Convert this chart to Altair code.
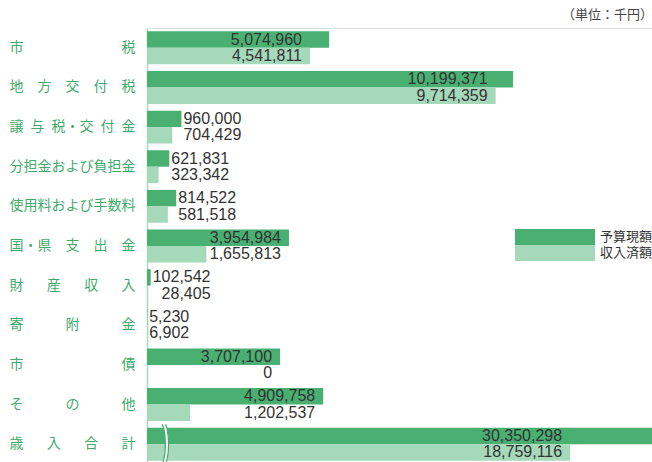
import altair as alt
import pandas as pd

# ---- data (千円) ----
categories = ["市税", "地方交付税", "譲与税・交付金", "分担金および負担金", "使用料および手数料",
              "国・県支出金", "財産収入", "寄附金", "市債", "その他", "歳入合計"]
budget = [5074960, 10199371, 960000, 621831, 814522, 3954984, 102542, 5230, 3707100, 4909758, 30350298]
received = [4541811, 9714359, 704429, 323342, 581518, 1655813, 28405, 6902, 0, 1202537, 18759116]
series = ["予算現額", "収入済額"]
colors = ["#49b072", "#a5d9ba"]
unit_title = "（単位：千円）"

# ---- layout constants ----
PLOT_W, PLOT_H = 505, 436
X_MAX = 14_070_000            # visible x-domain
BREAK = 6_970_000             # amount cut out of the total row (axis break)
BREAK_MARK_AT = 500_000       # where the break symbol is drawn
PX = PLOT_W / X_MAX           # px per unit
GREEN_TEXT = "#3fab6b"


def spaces_for(gap):
    full = int(gap)
    rest = gap - full
    s = "\u3000" * full
    if rest > 0.55:
        s += "\u2002\u2006"
    elif rest > 0.4:
        s += "\u2002"
    elif rest > 0.3:
        s += "\u2004"
    elif rest > 0.2:
        s += "\u2005"
    return s


def justify(name, em=9):
    """Spread the characters of a row label over a fixed width (均等割付)."""
    # a middle dot binds its neighbours together
    parts = []
    for ch in name:
        if ch == "・" and parts:
            parts[-1] += ch
        elif parts and parts[-1].endswith("・"):
            parts[-1] += ch
        else:
            parts.append(ch)
    n_chars = len(name)
    n_gaps = len(parts) - 1
    if n_chars >= em or n_gaps < 1:
        return name
    return spaces_for((em - n_chars) / n_gaps).join(parts)


def num_w(s):
    return sum(8.9 if c.isdigit() else 4.45 for c in s)


rows = []
for c, b, r in zip(categories, budget, received):
    is_total = c == "歳入合計"
    db = b - BREAK if is_total else b
    dr = r - BREAK if is_total else r
    lb, lr = f"{b:,}", f"{r:,}"
    if db >= 1_500_000:
        anchor = (dr if dr >= 0.5 * db else db) - 8 / PX
    else:
        anchor = db + (2 + max(num_w(lb), num_w(lr))) / PX
    for s, v, d, lab in ((series[0], b, db, lb), (series[1], r, dr, lr)):
        rows.append({"cat": justify(c), "series": s, "value": v, "disp": d,
                     "label": lab, "anchor": anchor})
df = pd.DataFrame(rows)
cat_order = [justify(c) for c in categories]

y_enc = alt.Y("cat:N", sort=cat_order,
              scale=alt.Scale(paddingInner=0.17, paddingOuter=0.085),
              axis=alt.Axis(title=None, ticks=False, labelPadding=12,
                            labelFont="Noto Sans CJK JP", labelFontSize=14,
                            labelColor=GREEN_TEXT, domainColor="#a5d9ba",
                            domainWidth=1.5, labelLimit=200))
yoff = alt.YOffset("series:N", sort=series,
                   scale=alt.Scale(paddingInner=0, paddingOuter=0))
x_scale = alt.Scale(domain=[0, X_MAX], nice=False, zero=True)

bars = alt.Chart(df).mark_bar(clip=True).encode(
    y=y_enc, yOffset=yoff,
    x=alt.X("disp:Q", scale=x_scale, axis=None),
    color=alt.Color("series:N", sort=series,
                    scale=alt.Scale(domain=series, range=colors),
                    legend=alt.Legend(title=None, orient="none", legendX=368, legendY=201,
                                      symbolType="M-1,-1H9V1H-1Z", symbolSize=256,
                                      symbolStrokeWidth=0, symbolOpacity=1,
                                      labelOffset=69, rowPadding=0, padding=0,
                                      labelFont="Noto Sans CJK JP", labelFontSize=13,
                                      labelColor="#333333")),
)

texts = alt.Chart(df).mark_text(align="right", baseline="middle",
                                font="Liberation Sans", fontSize=16, color="#333333").encode(
    y=alt.Y("cat:N", sort=cat_order), yOffset=yoff,
    x=alt.X("anchor:Q", scale=x_scale),
    text="label:N",
)

brk_df = pd.DataFrame({"cat": [justify("歳入合計")], "pos": [BREAK_MARK_AT]})
brk_white = alt.Chart(brk_df).mark_point(
    shape="M-0.05,-1C0.15,-0.5 0.15,0.5 -0.05,1", size=1600, filled=False,
    stroke="white", strokeWidth=3.5, opacity=1).encode(
    y=alt.Y("cat:N", sort=cat_order), x=alt.X("pos:Q", scale=x_scale))
brk_green = alt.Chart(brk_df).mark_point(
    shape="M-0.13,-1C0.07,-0.5 0.07,0.5 -0.13,1M0.03,-1C0.23,-0.5 0.23,0.5 0.03,1",
    size=1600, filled=False, stroke="#3fab6b", strokeWidth=1.2, opacity=1).encode(
    y=alt.Y("cat:N", sort=cat_order), x=alt.X("pos:Q", scale=x_scale))

chart = alt.layer(bars, brk_white, brk_green, texts).properties(
    width=PLOT_W, height=PLOT_H,
    title=alt.TitleParams(unit_title, anchor="end", fontSize=13, font="Noto Sans CJK JP",
                          color="#444444", fontWeight="normal", offset=6),
    autosize=alt.AutoSizeParams(type="none"),
    padding={"left": 147, "top": 28, "right": 0, "bottom": 0},
).configure_view(stroke=None).configure(background="white")

chart.save("out.html", embed_options={"renderer": "svg", "actions": False})
